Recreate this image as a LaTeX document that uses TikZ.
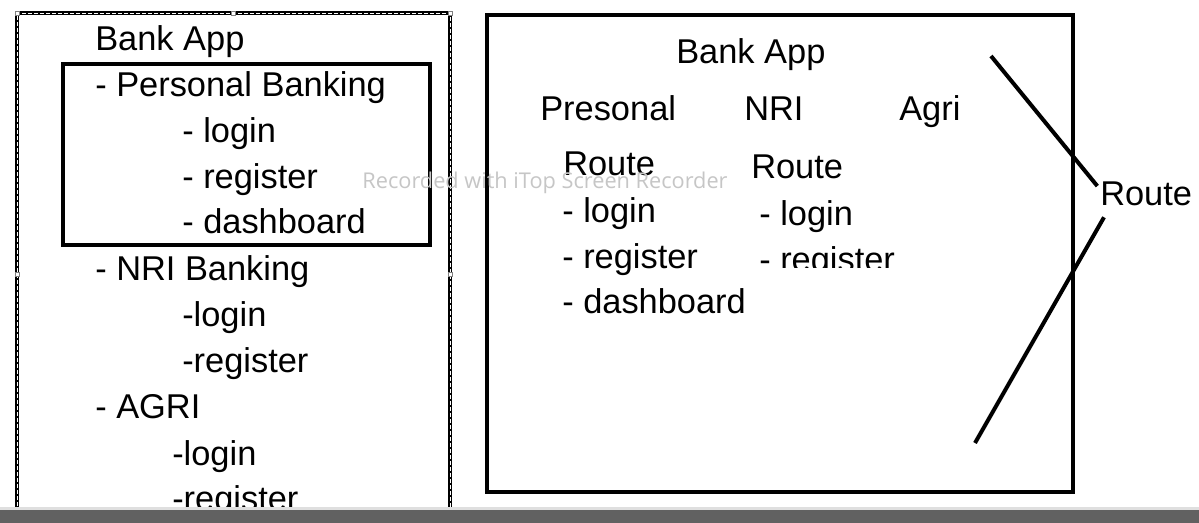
\documentclass[tikz,border=0pt]{standalone}
\usepackage{fontspec}
\setmainfont{Liberation Sans}
\newfontfamily\wmfont{Open Sans}

\tikzset{
  item/.style={anchor=base west,inner sep=0pt,font=\fontsize{25.8}{30}\selectfont},
  handle/.style={draw=gray,fill=white,line width=0.4pt,minimum size=3pt,inner sep=0pt}
}

\begin{document}
\begin{tikzpicture}[x=0.75pt,y=-0.75pt]
    \useasboundingbox (0,0) rectangle (1199,523);
    \fill[white] (0,0) rectangle (1199,523);
    % left panel, selection frame
    \draw[line width=2.6pt] (17,530) -- (17,13) -- (450,13) -- (450,530);
    \draw[white,line width=0.6pt,dash pattern=on 3pt off 1.5pt] (17,530) -- (17,13) -- (450,13) -- (450,530);
    \foreach \hx/\hy in {17/13,233/13,450/13,17/274,450/274}
        \node[handle] at (\hx,\hy) {};
    \node[item] (lbank) at (95,51) {Bank App};
    \draw[line width=3pt] (62.5,64.5) rectangle (429.5,245);
    \node[item] (lpers) at (95,97) {- Personal Banking};
    \node[item] (lplogin) at (182,143) {- login};
    \node[item] (lpreg) at (182,189) {- register};
    \node[item] (lpdash) at (182,234) {- dashboard};
    \node[item] (lnri) at (95,281) {- NRI Banking};
    \node[item] (lnlogin) at (182,327) {-login};
    \node[item] (lnreg) at (182,373) {-register};
    \node[item] (lagri) at (95,419) {- AGRI};
    \node[item] (lalogin) at (172,465) {-login};
    \node[item] (lareg) at (172,511) {-register};
    % right panel
    \draw[line width=3pt] (487,15) rectangle (1073,492);
    \node[item] (rbank) at (676,64) {Bank App};
    \node[item] (rpers) at (540,121) {Presonal};
    \node[item] (rnri) at (744,121) {NRI};
    \node[item] (ragri) at (899,121) {Agri};
    \node[item] (rproute) at (563,176) {Route};
    \node[item] (rnroute) at (751,179) {Route};
    \node[item] (rplogin) at (562,223) {- login};
    \node[item] (rpreg) at (562,269) {- register};
    \node[item] (rpdash) at (562,314) {- dashboard};
    \node[item] (rnlogin) at (759,226) {- login};
    \begin{scope}
        \clip (740,230) rectangle (920,268);
        \node[item] (rnreg) at (759,272) {- register};
    \end{scope}
    \node[item] (route) at (1100,206) {Route};
    \coordinate (topend) at (991,56);
    \coordinate (botend) at (975,443);
    \draw[line width=3pt] (topend) -- ([xshift=-2pt,yshift=-3pt]route.north west);
    \draw[line width=3pt] ([xshift=3pt,yshift=-8pt]route.south west) -- (botend);
    % recorder watermark
    \node[inner sep=0pt,text=gray!45,font=\wmfont\fontsize{16.3}{16}\selectfont] (wm) at (545,183) {Recorded with iTop Screen Recorder};
    % bottom bar
    \fill[gray!25] (0,507) rectangle (1199,510);
    \fill[black!62] (0,510) rectangle (1199,523);
\end{tikzpicture}
\end{document}
